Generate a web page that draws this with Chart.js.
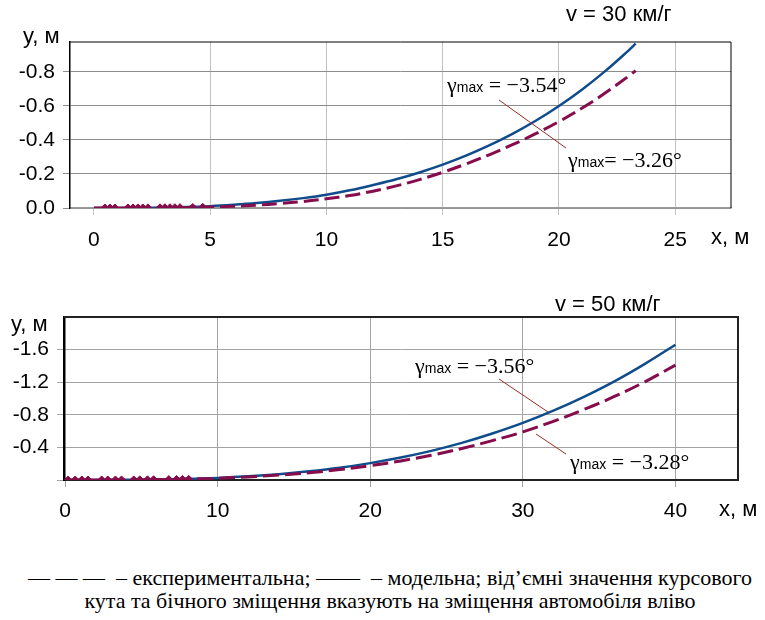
<!DOCTYPE html>
<html>
<head>
<meta charset="utf-8">
<script src="https://cdn.jsdelivr.net/npm/chart.js@4.4.1/dist/chart.umd.min.js"></script>
<style>
  body { margin: 0; background: #fff; width: 765px; height: 620px; position: relative; overflow: hidden; }
  canvas { position: absolute; left: 0; }
  #chart30 { top: 0; }
  #chart50 { top: 270px; }
  .note { position: absolute; left: 0; width: 780px; text-align: center; color: #000;
          font-family: "Liberation Serif", "Times New Roman", "DejaVu Serif", serif; font-size: 22px; white-space: nowrap; }
</style>
</head>
<body>
<canvas id="chart30" width="765" height="262"></canvas>
<canvas id="chart50" width="765" height="262"></canvas>
<div class="note" style="top:565px">— — — &nbsp;– експериментальна; —— &nbsp;– модельна; від’ємні значення курсового</div>
<div class="note" style="top:588px">кута та бічного зміщення вказують на зміщення автомобіля вліво</div>
<script>
// v = 30 км/г
const xs30 = [0, 1, 2, 3, 4, 5, 6, 7, 8, 9, 10, 11, 12, 13, 14, 15, 16, 17, 18, 19, 20, 21, 22, 23, 23.3];
const model30 = [0, -0.0001, -0.0008, -0.0025, -0.006, -0.011, -0.019, -0.029, -0.042, -0.058, -0.078, -0.104,
  -0.135, -0.169, -0.209, -0.255, -0.308, -0.368, -0.436, -0.513, -0.6, -0.697, -0.806, -0.927, -0.966];
const exp30 = [0, -0.0001, -0.0004, -0.0013, -0.003, -0.006, -0.0105, -0.017, -0.026, -0.038, -0.054, -0.073,
  -0.099, -0.13, -0.167, -0.21, -0.259, -0.313, -0.372, -0.437, -0.508, -0.588, -0.677, -0.776, -0.808];
const dots30X = [0.47, 0.69, 0.9, 1.46, 1.68, 1.89, 2.1, 2.32, 2.84, 3.05, 3.27, 3.48, 3.7, 4.25, 4.68];
const dots30Y = [0, 0, 0, -0.0002, -0.0003, -0.0004, -0.0005, -0.0006, -0.001, -0.0012, -0.0014, -0.0017, -0.002, -0.003, -0.004];
const ticks30X = [0, 5, 10, 15, 20, 25];
const ticks30Y = [0, -0.2, -0.4, -0.6, -0.8];

// v = 50 км/г
const xs50 = [0, 2, 4, 6, 8, 10, 12, 14, 16, 18, 20, 22, 24, 26, 28, 30, 32, 34, 36, 38, 40];
const model50 = [0, -0.0002, -0.0017, -0.0056, -0.013, -0.026, -0.045, -0.071, -0.106, -0.15, -0.207,
  -0.275, -0.357, -0.455, -0.57, -0.7, -0.85, -1.02, -1.21, -1.425, -1.66];
const exp50 = [0, -0.0002, -0.0014, -0.0048, -0.011, -0.022, -0.038, -0.06, -0.09, -0.128, -0.176,
  -0.234, -0.304, -0.387, -0.483, -0.59, -0.72, -0.865, -1.025, -1.205, -1.41];
const dots50X = [0.2, 0.66, 1.1, 1.5, 2.4, 2.8, 3.3, 3.7, 4.5, 4.9, 5.4, 5.8, 6.8, 7.3, 7.7, 8.1];
const dots50Y = [0, 0, 0, 0, -0.0002, -0.0003, -0.0005, -0.0007, -0.0013, -0.0017, -0.0023, -0.003, -0.005, -0.006, -0.007, -0.008];
const ticks50X = [0, 10, 20, 30, 40];
const ticks50Y = [0, -0.4, -0.8, -1.2, -1.6];

const MODEL_COLOR = '#0f4c8c';
const EXP_COLOR = '#860c4c';
const SANS = '"Liberation Sans", Arial, sans-serif';
const SERIF = '"Liberation Serif", "Times New Roman", "DejaVu Serif", serif';

const pts = (xs, ys) => xs.map((x, i) => ({ x, y: ys[i] }));

// γmax label: Greek letter and "= value" in serif, "max" in a smaller sans
function gammaLabel(ctx, x, y, gap, text) {
  ctx.textBaseline = 'alphabetic';
  ctx.textAlign = 'left';
  ctx.font = '22px ' + SERIF;
  ctx.fillText('γ', x, y);
  x += ctx.measureText('γ').width;
  ctx.font = '14px ' + SANS;
  ctx.fillText('max', x, y);
  x += ctx.measureText('max').width;
  ctx.font = '22px ' + SERIF;
  ctx.fillText(gap + '= ' + text, x, y);
}

// closes the plot box and writes the captions around it
function framePlugin(d) {
  return {
    id: 'frame',
    afterDatasetsDraw(chart) {
      const { ctx, chartArea: a } = chart;
      ctx.save();
      ctx.strokeStyle = d.box;
      ctx.lineWidth = d.boxWidth;
      ctx.beginPath();
      ctx.moveTo(a.left, a.top);
      ctx.lineTo(a.right, a.top);
      ctx.lineTo(a.right, a.bottom);
      ctx.stroke();

      ctx.strokeStyle = '#9c2a22';
      ctx.lineWidth = 1;
      d.leaders.forEach(([x1, y1, x2, y2]) => {
        ctx.beginPath();
        ctx.moveTo(x1, y1);
        ctx.lineTo(x2, y2);
        ctx.stroke();
      });

      ctx.fillStyle = '#000';
      ctx.font = '22px ' + SANS;
      ctx.textBaseline = 'middle';
      ctx.textAlign = 'left';
      ctx.fillText(d.title, d.titleAt[0], d.titleAt[1]);
      ctx.fillText('y, м', d.yLabelAt[0], d.yLabelAt[1]);
      ctx.fillText('x, м', d.xLabelAt[0], d.xLabelAt[1]);

      d.notes.forEach(n => gammaLabel(ctx, n.at[0], n.at[1], n.gap, n.text));
      ctx.restore();
    }
  };
}

function buildChart(id, c) {
  return new Chart(document.getElementById(id), {
    type: 'line',
    data: {
      datasets: [
        { data: pts(c.dotsX, c.dotsY), showLine: false, pointStyle: 'rectRot', pointRadius: 4,
          pointBackgroundColor: EXP_COLOR, pointBorderColor: EXP_COLOR, pointBorderWidth: 1 },
        { data: pts(c.xs, c.exp), borderColor: EXP_COLOR, borderWidth: 3, borderDash: c.dash,
          pointRadius: 0, tension: 0.4 },
        { data: pts(c.xs, c.model), borderColor: MODEL_COLOR, borderWidth: 2.5,
          pointRadius: 0, tension: 0.4 }
      ]
    },
    options: {
      responsive: false,
      animation: false,
      devicePixelRatio: 1,
      layout: { padding: c.padding },
      plugins: { legend: { display: false }, tooltip: { enabled: false } },
      scales: {
        x: {
          type: 'linear',
          min: c.xMin,
          max: c.xMax,
          afterBuildTicks: s => { s.ticks = c.xTicks.map(v => ({ value: v })); },
          afterFit: s => { s.height = c.xHeight; },
          ticks: { font: { family: SANS, size: 21 }, color: '#000', padding: c.xPad, maxRotation: 0 },
          grid: { color: ctx => (ctx.tick && ctx.tick.value === 0 ? 'transparent' : c.xGrid),
                  tickColor: c.xGrid, tickLength: 7, lineWidth: 1 },
          border: { color: c.xBorder, width: c.xBorderWidth }
        },
        y: {
          type: 'linear',
          min: c.yMin,
          max: 0,
          reverse: true,
          afterBuildTicks: s => { s.ticks = c.yTicks.map(v => ({ value: v })); },
          afterFit: s => { s.width = c.yWidth; },
          ticks: { font: { family: SANS, size: 21 }, color: '#000', padding: 8,
                   callback: c.yLabel },
          grid: { color: c.yGrid, tickColor: c.yGrid, tickLength: 7, lineWidth: 1 },
          border: { color: '#000', width: c.yBorderWidth }
        }
      }
    },
    plugins: [framePlugin(c.frame)]
  });
}

buildChart('chart30', {
  xs: xs30, model: model30, exp: exp30, dotsX: dots30X, dotsY: dots30Y,
  xTicks: ticks30X, yTicks: ticks30Y,
  xMin: -1.03, xMax: 27.4, yMin: -0.976,
  padding: { top: 42, right: 34, left: 0, bottom: 0 },
  xHeight: 54, yWidth: 70, xPad: 13,
  xGrid: '#c2c2c2', yGrid: '#8c8c8c', xBorder: '#9a9a9a', xBorderWidth: 1.5, yBorderWidth: 1.5,
  dash: [15, 6],
  yLabel: v => v.toFixed(1),
  frame: {
    box: '#000', boxWidth: 1,
    title: 'v = 30 км/г', titleAt: [566, 15],
    yLabelAt: [23, 37], xLabelAt: [711, 238],
    notes: [
      { at: [447, 92], gap: ' ', text: '−3.54°' },
      { at: [568, 167], gap: '', text: '−3.26°' }
    ],
    leaders: [[499, 100, 566, 148]]
  }
});

buildChart('chart50', {
  xs: xs50, model: model50, exp: exp50, dotsX: dots50X, dotsY: dots50Y,
  xTicks: ticks50X, yTicks: ticks50Y,
  xMin: -0.07, xMax: 44.1, yMin: -2.0,
  padding: { top: 47, right: 27, left: 0, bottom: 0 },
  xHeight: 52, yWidth: 64, xPad: 12,
  xGrid: '#a4a4a4', yGrid: '#a4a4a4', xBorder: '#222', xBorderWidth: 2, yBorderWidth: 2.5,
  dash: [16, 6],
  yLabel: v => (v === 0 ? '' : v.toFixed(1)),
  frame: {
    box: '#222', boxWidth: 2,
    title: 'v = 50 км/г', titleAt: [555, 35],
    yLabelAt: [11, 55], xLabelAt: [719, 240],
    notes: [
      { at: [415, 103], gap: ' ', text: '−3.56°' },
      { at: [570, 199], gap: ' ', text: '−3.28°' }
    ],
    leaders: [[499, 109, 548, 142], [536, 164, 566, 184]]
  }
});
</script>
</body>
</html>
